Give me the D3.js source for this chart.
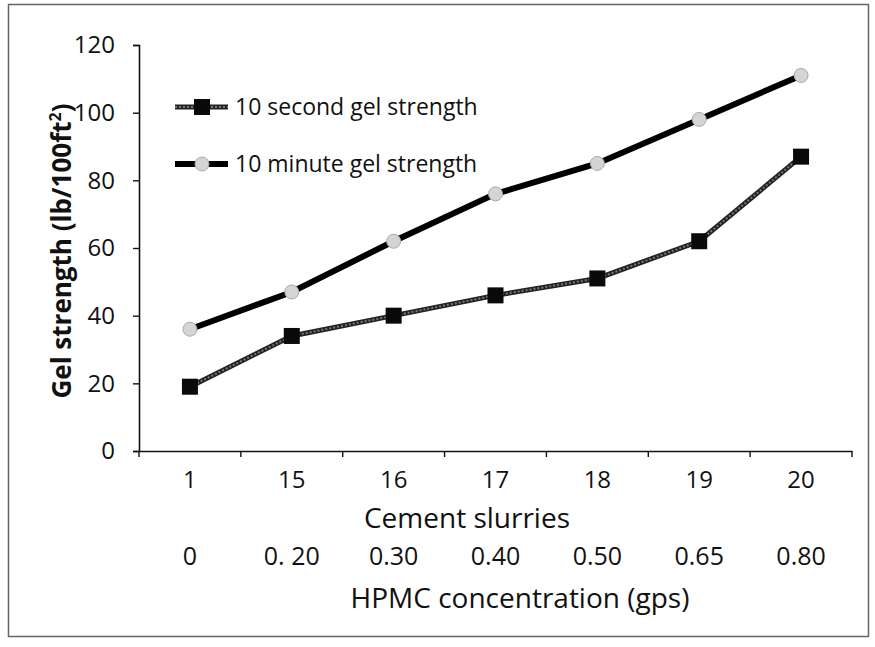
<!DOCTYPE html>
<html>
<head>
    <meta charset="utf-8">
    <style>
        body { margin: 0; background: #fff; }
        text { font-family: 'Open Sans', sans-serif; fill: #111; }
    </style>
</head>
<body>
<script src="https://d3js.org/d3.v7.min.js"></script>
<script>
    var slurries = ['1', '15', '16', '17', '18', '19', '20'];
    var hpmc = ['0', '0. 20', '0.30', '0.40', '0.50', '0.65', '0.80'];
    var tenSecond = [19, 34, 40, 46, 51, 62, 87];
    var tenMinute = [36, 47, 62, 76, 85, 98, 111];
    var yTicks = [0, 20, 40, 60, 80, 100, 120];

    var W = 875, H = 647;
    var plot = { left: 139, right: 852, top: 45, bottom: 451 };
    var font = "'Open Sans', sans-serif";

    var svg = d3.select('body').append('svg')
        .attr('width', W)
        .attr('height', H);

    // scanned page frame
    svg.append('rect')
        .attr('x', 8.5).attr('y', 4.5)
        .attr('width', 860).attr('height', 632)
        .attr('fill', 'none')
        .attr('stroke', '#666')
        .attr('stroke-width', 1.5);

    var x = d3.scaleBand().domain(slurries).range([plot.left, plot.right]);
    var y = d3.scaleLinear().domain([0, 120]).range([plot.bottom, plot.top]);

    // axes
    var yAxis = svg.append('g')
        .attr('transform', 'translate(' + plot.left + ',0)')
        .call(d3.axisLeft(y).tickValues(yTicks).tickSize(6).tickPadding(18));
    var xAxis = svg.append('g')
        .attr('transform', 'translate(0,' + plot.bottom + ')')
        .call(d3.axisBottom(x).tickSize(0).tickPadding(20));

    [yAxis, xAxis].forEach(function (a) {
        a.select('.domain').attr('stroke', '#111').attr('stroke-width', 1.6);
        a.selectAll('.tick line').attr('stroke', '#111').attr('stroke-width', 1.4);
        a.selectAll('.tick text')
            .attr('font-family', font)
            .attr('font-size', 24)
            .attr('fill', '#111');
    });

    // x tick marks on band edges
    xAxis.selectAll('.edge')
        .data(slurries.concat(['end']))
        .enter().append('line')
        .attr('x1', function (d, i) { return plot.left + i * x.step(); })
        .attr('x2', function (d, i) { return plot.left + i * x.step(); })
        .attr('y1', 0).attr('y2', 6)
        .attr('stroke', '#111').attr('stroke-width', 1.4);

    // second row of labels
    svg.append('g').selectAll('text')
        .data(hpmc)
        .enter().append('text')
        .attr('x', function (d, i) { return x(slurries[i]) + x.bandwidth() / 2; })
        .attr('y', 565)
        .attr('text-anchor', 'middle')
        .attr('font-size', 25)
        .text(function (d) { return d; });

    svg.append('text')
        .attr('x', 467).attr('y', 528)
        .attr('text-anchor', 'middle')
        .attr('font-size', 28)
        .text('Cement slurries');

    svg.append('text')
        .attr('x', 520).attr('y', 608)
        .attr('text-anchor', 'middle')
        .attr('font-size', 28)
        .text('HPMC concentration (gps)');

    var yTitle = svg.append('text')
        .attr('transform', 'translate(71,251) rotate(-90)')
        .attr('text-anchor', 'middle')
        .attr('font-size', 26)
        .attr('font-weight', 'bold');
    yTitle.append('tspan').text('Gel strength (lb/100ft');
    yTitle.append('tspan').attr('font-size', 16).attr('dy', -10).text('2');
    yTitle.append('tspan').attr('dy', 10).text(')');

    var cx = function (d, i) { return x(slurries[i]) + x.bandwidth() / 2; };
    var line = d3.line().x(cx).y(function (d) { return y(d); });

    // 10 minute series
    svg.append('path').datum(tenMinute)
        .attr('d', line)
        .attr('fill', 'none')
        .attr('stroke', '#000')
        .attr('stroke-width', 6);
    svg.append('g').selectAll('circle')
        .data(tenMinute)
        .enter().append('circle')
        .attr('cx', cx)
        .attr('cy', function (d) { return y(d); })
        .attr('r', 7)
        .attr('fill', '#d4d4d4')
        .attr('stroke', '#aaa')
        .attr('stroke-width', 1);

    // 10 second series
    svg.append('path').datum(tenSecond)
        .attr('d', line)
        .attr('fill', 'none')
        .attr('stroke', '#222')
        .attr('stroke-width', 5);
    svg.append('path').datum(tenSecond)
        .attr('d', line)
        .attr('fill', 'none')
        .attr('stroke', '#777')
        .attr('stroke-width', 2)
        .attr('stroke-dasharray', '2,2');
    svg.append('g').selectAll('rect')
        .data(tenSecond)
        .enter().append('rect')
        .attr('x', function (d, i) { return cx(d, i) - 8; })
        .attr('y', function (d) { return y(d) - 8; })
        .attr('width', 16).attr('height', 16)
        .attr('fill', '#0a0a0a');

    // legend
    var leg = svg.append('g');
    leg.append('line').attr('x1', 175).attr('x2', 228).attr('y1', 107).attr('y2', 107)
        .attr('stroke', '#222').attr('stroke-width', 5);
    leg.append('line').attr('x1', 175).attr('x2', 228).attr('y1', 107).attr('y2', 107)
        .attr('stroke', '#777').attr('stroke-width', 2).attr('stroke-dasharray', '2,2');
    leg.append('rect').attr('x', 194).attr('y', 99).attr('width', 16).attr('height', 16)
        .attr('fill', '#0a0a0a');
    leg.append('text').attr('x', 235).attr('y', 115).attr('font-size', 23)
        .text('10 second gel strength');

    leg.append('line').attr('x1', 175).attr('x2', 228).attr('y1', 164).attr('y2', 164)
        .attr('stroke', '#000').attr('stroke-width', 6);
    leg.append('circle').attr('cx', 202).attr('cy', 164).attr('r', 7)
        .attr('fill', '#d4d4d4').attr('stroke', '#aaa');
    leg.append('text').attr('x', 235).attr('y', 172).attr('font-size', 23)
        .text('10 minute gel strength');
</script>
</body>
</html>
